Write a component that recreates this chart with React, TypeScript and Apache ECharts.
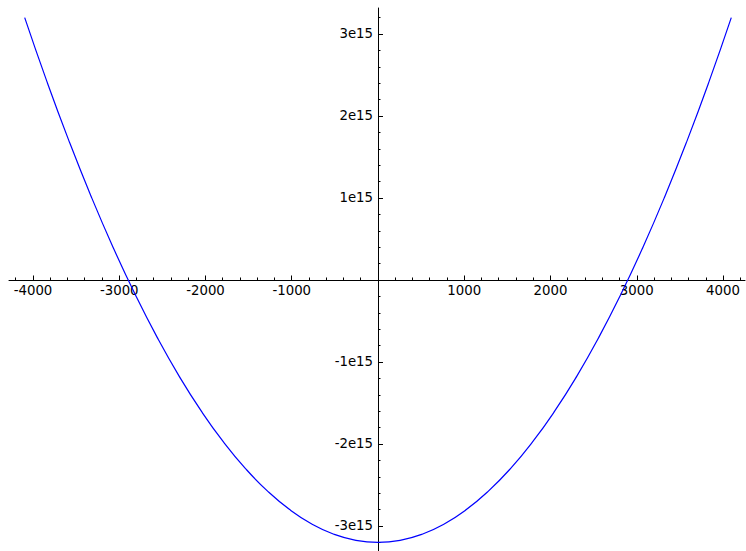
import React, { useEffect, useRef } from "react";
import * as echarts from "echarts";

// Curve samples (x, y)
const xValues = [
  -4096, -3840, -3584, -3328, -3072, -2816, -2560, -2304, -2048, -1792, -1536, -1280, -1024, -768, -512, -256,
  0, 256, 512, 768, 1024, 1280, 1536, 1792, 2048, 2304, 2560, 2816, 3072, 3328, 3584, 3840, 4096,
];
const yValues = [
  3.2e15, 2.425e15, 1.7e15, 1.025e15, 0.4e15, -0.175e15, -0.7e15, -1.175e15, -1.6e15, -1.975e15, -2.3e15,
  -2.575e15, -2.8e15, -2.975e15, -3.1e15, -3.175e15, -3.2e15, -3.175e15, -3.1e15, -2.975e15, -2.8e15,
  -2.575e15, -2.3e15, -1.975e15, -1.6e15, -1.175e15, -0.7e15, -0.175e15, 0.4e15, 1.025e15, 1.7e15,
  2.425e15, 3.2e15,
];

// Axis ticks / labels
const xMajorTicks = [-4000, -3000, -2000, -1000, 0, 1000, 2000, 3000, 4000];
const xLabels = [-4000, -3000, -2000, -1000, 1000, 2000, 3000, 4000];
const xMinorTicks = [
  -4200, -3800, -3600, -3400, -3200, -2800, -2600, -2400, -2200, -1800, -1600, -1400, -1200, -800, -600,
  -400, -200, 200, 400, 600, 800, 1200, 1400, 1600, 1800, 2200, 2400, 2600, 2800, 3200, 3400, 3600, 3800, 4200,
];
const yMajorTicks = [-3e15, -2e15, -1e15, 0, 1e15, 2e15, 3e15];
const yLabels = [-3e15, -2e15, -1e15, 1e15, 2e15, 3e15];
const yMinorTicks = [
  -3.2e15, -2.8e15, -2.6e15, -2.4e15, -2.2e15, -1.8e15, -1.6e15, -1.4e15, -1.2e15, -0.8e15, -0.6e15,
  -0.4e15, -0.2e15, 0.2e15, 0.4e15, 0.6e15, 0.8e15, 1.2e15, 1.4e15, 1.6e15, 1.8e15, 2.2e15, 2.4e15,
  2.6e15, 2.8e15, 3.2e15,
];

const X_MIN = -4278;
const X_MAX = 4255;
const Y_MIN = -3.305e15;
const Y_MAX = 3.317e15;

const W = 746;
const H = 551;
const G_LEFT = 9;
const G_RIGHT = 1;
const G_TOP = 8;
const G_BOTTOM = 0;

const fmtY = (v: number) => {
  const m = Math.round(v / 1e14) / 10;
  return m + "e15";
};

export default function App() {
  const ref = useRef<HTMLDivElement>(null);
  useEffect(() => {
    if (!ref.current) return;
    const chart = echarts.init(ref.current, undefined, { renderer: "svg" });
    const axisLineStyle = { color: "#000", width: 1 };
    const labelStyle = { color: "#000", fontFamily: "DejaVu Sans", fontSize: 13.3 };
    const build = (ox: number, oy: number) => ({
      animation: false,
      backgroundColor: "#fff",
      grid: {
        left: G_LEFT,
        right: G_RIGHT,
        top: G_TOP,
        bottom: G_BOTTOM,
        containLabel: false,
        outerBoundsMode: "none",
      },
      xAxis: [
        {
          type: "value",
          min: X_MIN,
          max: X_MAX,
          position: "bottom",
          offset: -(H - G_BOTTOM - oy),
          axisLine: { show: true, onZero: false, lineStyle: axisLineStyle },
          axisTick: { show: true, inside: true, length: 4.5, customValues: xMajorTicks, lineStyle: axisLineStyle },
          axisLabel: { show: true, margin: 4, customValues: xLabels, ...labelStyle, formatter: (v: number) => String(v) },
          splitLine: { show: false },
        },
        {
          type: "value",
          min: X_MIN,
          max: X_MAX,
          position: "top",
          offset: -(oy - G_TOP),
          axisLine: { show: false, onZero: false },
          axisTick: { show: true, inside: false, length: 2.5, customValues: xMinorTicks, lineStyle: axisLineStyle },
          axisLabel: { show: false },
          splitLine: { show: false },
        },
      ],
      yAxis: [
        {
          type: "value",
          min: Y_MIN,
          max: Y_MAX,
          position: "left",
          offset: -(ox - G_LEFT),
          axisLine: { show: true, onZero: false, lineStyle: axisLineStyle },
          axisTick: { show: true, inside: true, length: 5, customValues: yMajorTicks, lineStyle: axisLineStyle },
          axisLabel: { show: true, margin: 5, customValues: yLabels, ...labelStyle, formatter: fmtY },
          splitLine: { show: false },
        },
        {
          type: "value",
          min: Y_MIN,
          max: Y_MAX,
          position: "right",
          offset: -(W - G_RIGHT - ox),
          axisLine: { show: false, onZero: false },
          axisTick: { show: true, inside: false, length: 2.5, customValues: yMinorTicks, lineStyle: axisLineStyle },
          axisLabel: { show: false },
          splitLine: { show: false },
        },
      ],
      series: [
        {
          type: "line",
          xAxisIndex: 0,
          yAxisIndex: 0,
          data: xValues.map((x, i) => [x, yValues[i]]),
          smooth: true,
          showSymbol: false,
          lineStyle: { color: "#0000ff", width: 1.2 },
          itemStyle: { color: "#0000ff" },
        },
      ],
    });
    chart.setOption(build(G_LEFT, H - G_BOTTOM));
    const origin = chart.convertToPixel({ gridIndex: 0 }, [0, 0]) as number[];
    chart.setOption(build(origin[0], origin[1]));
    return () => chart.dispose();
  }, []);
  return (
    <div
      ref={ref}
      style={{ position: "fixed", left: 0, top: 0, width: W, height: H, background: "#fff" }}
    />
  );
}
